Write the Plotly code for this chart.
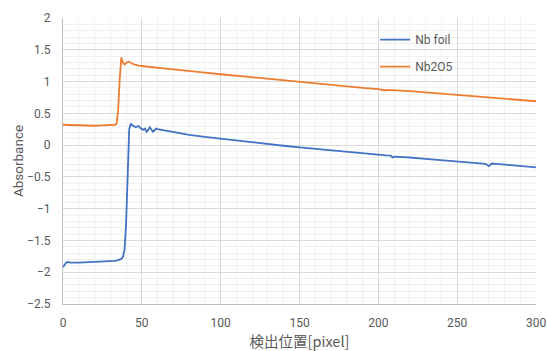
import plotly.graph_objects as go

nb_foil_x = [0, 1, 2, 3, 5, 10, 15, 20, 25, 30, 33, 35, 37, 38, 39, 40, 41, 42, 43, 44, 45, 46, 47, 48, 49,
             50, 51, 52, 53, 54, 55, 56, 57, 58, 59, 60, 62, 64, 66, 70, 75, 80, 90, 100, 110, 120, 130,
             140, 150, 160, 170, 180, 190, 200, 205, 208, 209, 210, 214, 220, 230, 240, 250, 260, 265,
             268, 270, 272, 275, 280, 290, 300]
nb_foil_y = [-1.92, -1.88, -1.85, -1.84, -1.85, -1.85, -1.845, -1.84, -1.835, -1.83, -1.82, -1.81, -1.79,
             -1.76, -1.65, -1.25, -0.5, 0.25, 0.34, 0.31, 0.30, 0.28, 0.29, 0.30, 0.27, 0.25, 0.24, 0.26,
             0.21, 0.24, 0.28, 0.25, 0.21, 0.23, 0.26, 0.25, 0.24, 0.23, 0.22, 0.20, 0.18, 0.16, 0.13,
             0.10, 0.07, 0.04, 0.015, -0.01, -0.035, -0.06, -0.08, -0.10, -0.125, -0.15, -0.16, -0.165,
             -0.195, -0.18, -0.184, -0.195, -0.215, -0.235, -0.255, -0.275, -0.285, -0.295, -0.33, -0.29,
             -0.295, -0.305, -0.33, -0.35]

nb2o5_x = [0, 5, 10, 15, 20, 25, 30, 32, 33, 34, 35, 36, 37, 38, 39, 40, 41, 42, 43, 44, 45, 46, 48, 50,
           55, 60, 65, 70, 75, 80, 90, 100, 110, 120, 130, 140, 150, 160, 170, 180, 190, 200, 204, 205,
           210, 220, 230, 240, 250, 260, 266, 267, 270, 280, 290, 300]
nb2o5_y = [0.32, 0.315, 0.31, 0.31, 0.305, 0.31, 0.31, 0.315, 0.32, 0.34, 0.55, 1.05, 1.38, 1.30, 1.27,
           1.29, 1.31, 1.31, 1.29, 1.28, 1.27, 1.26, 1.25, 1.245, 1.235, 1.22, 1.205, 1.19, 1.175, 1.16,
           1.14, 1.115, 1.09, 1.065, 1.04, 1.015, 0.99, 0.965, 0.945, 0.92, 0.90, 0.88, 0.86, 0.87, 0.865,
           0.85, 0.83, 0.81, 0.79, 0.77, 0.75, 0.755, 0.745, 0.73, 0.71, 0.69]

x_title = "検出位置[pixel]"
y_title = "Absorbance"

fig = go.Figure()
fig.add_trace(go.Scatter(x=nb_foil_x, y=nb_foil_y, mode="lines", name="Nb foil",
                         line=dict(color="#4472C4", width=1.8), legendgroup="a"))
fig.add_trace(go.Scatter(x=nb2o5_x, y=nb2o5_y, mode="lines", name="Nb2O5",
                         line=dict(color="#ED7D31", width=1.8), legendgroup="b"))

tick_font = dict(family="Roboto, Liberation Sans, sans-serif", size=12, color="#595959")
leg_font = dict(family="Roboto, Liberation Sans, sans-serif", size=12, color="#595959")

fig.update_layout(
    width=547, height=351,
    margin=dict(l=63, r=11, t=18, b=47),
    paper_bgcolor="white", plot_bgcolor="white",
    legend=dict(x=0.66, y=0.975, xanchor="left", yanchor="top", font=leg_font,
                bgcolor="rgba(0,0,0,0)", itemwidth=30, tracegroupgap=8),
)
fig.update_xaxes(
    range=[0, 300], dtick=50, tick0=0, automargin=False,
    showgrid=True, gridcolor="#D9D9D9", gridwidth=1,
    minor=dict(dtick=10, showgrid=True, gridcolor="#F0F0F0", gridwidth=1),
    showline=True, linecolor="#BFBFBF", linewidth=1,
    zeroline=False, ticks="", tickfont=tick_font, ticklabelstandoff=8,
    title=dict(text=x_title, font=dict(family="Noto Sans CJK JP, sans-serif", size=14.5, color="#595959"),
               standoff=4),
)
fig.update_yaxes(
    range=[-2.5, 2], dtick=0.5, tick0=0, automargin=False,
    showgrid=True, gridcolor="#D9D9D9", gridwidth=1,
    minor=dict(dtick=0.1, showgrid=True, gridcolor="#F0F0F0", gridwidth=1),
    showline=True, linecolor="#BFBFBF", linewidth=1,
    zeroline=False, ticks="", tickfont=tick_font, ticklabelstandoff=9,
    title=dict(text=y_title, font=dict(family="Roboto, Liberation Sans, sans-serif", size=13.5, color="#595959"),
               standoff=0),
)
fig.write_html("out.html", config={"displayModeBar": False},
               post_script="document.body.style.margin='0';")
